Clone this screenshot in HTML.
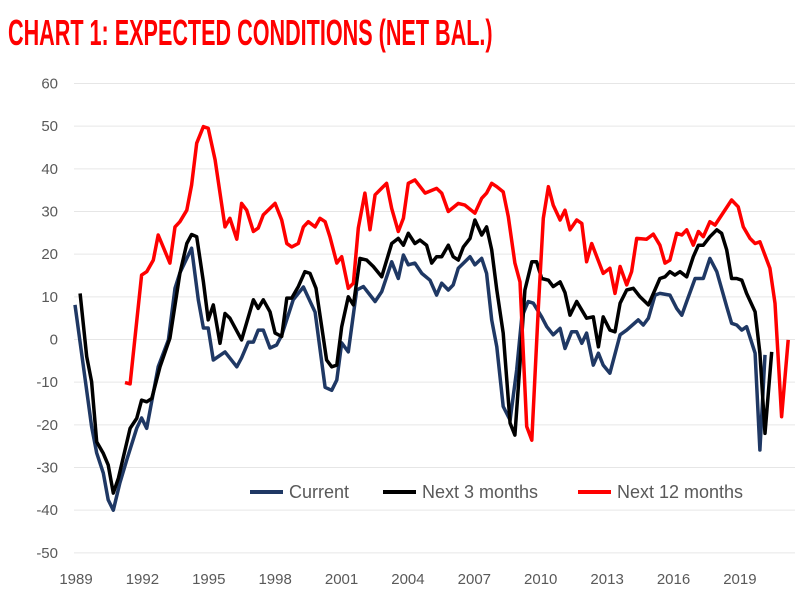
<!DOCTYPE html>
<html><head><meta charset="utf-8"><style>
body{margin:0;background:#fff;}
svg{display:block;font-family:"Liberation Sans",sans-serif;}
</style></head><body>
<svg id="chart" width="808" height="597" viewBox="0 0 808 597" xmlns="http://www.w3.org/2000/svg">
<text x="8" y="45" fill="#ff0000" font-size="36" font-weight="bold" transform="translate(8,0) scale(0.6,1) translate(-8,0)">CHART 1: EXPECTED CONDITIONS (NET BAL.)</text>
<g id="grid"></g>
<g id="yaxis"></g>
<g id="xaxis"></g>
<g id="series"></g>
<g>
<g><line x1="250" y1="492" x2="283" y2="492" stroke="#1f3864" stroke-width="4"/><text x="289" y="498" font-size="18" fill="#595959">Current</text></g>
<g><line x1="383" y1="492" x2="416" y2="492" stroke="#000" stroke-width="4"/><text x="422" y="498" font-size="18" fill="#595959">Next 3 months</text></g>
<g><line x1="578" y1="492" x2="611" y2="492" stroke="#ff0000" stroke-width="4"/><text x="617" y="498" font-size="18" fill="#595959">Next 12 months</text></g>
</g>
</svg>
<script>
const yTicks=[60,50,40,30,20,10,0,-10,-20,-30,-40,-50];
const xTicks=[1989,1992,1995,1998,2001,2004,2007,2010,2013,2016,2019];
const curDates=[1989.00,1989.75,1989.98,1990.28,1990.50,1990.73,1991.03,1991.34,1991.79,1992.01,1992.24,1992.76,1993.22,1993.52,1993.74,1994.27,1994.57,1994.80,1995.02,1995.25,1995.78,1996.31,1996.53,1996.83,1997.06,1997.28,1997.51,1997.81,1998.11,1998.34,1998.86,1999.32,1999.85,2000.30,2000.60,2000.83,2001.05,2001.35,2001.73,2002.03,2002.56,2002.86,2003.31,2003.61,2003.84,2004.06,2004.36,2004.67,2005.04,2005.34,2005.57,2005.87,2006.09,2006.32,2006.85,2007.07,2007.38,2007.60,2007.83,2008.06,2008.35,2008.66,2008.96,2009.19,2009.48,2009.71,2010.09,2010.32,2010.61,2010.92,2011.14,2011.44,2011.67,2011.90,2012.12,2012.42,2012.65,2012.87,2013.17,2013.63,2013.93,2014.45,2014.68,2014.91,2015.21,2015.43,2015.88,2016.19,2016.42,2016.64,2017.02,2017.39,2017.69,2018.00,2018.45,2018.67,2018.90,2019.13,2019.35,2019.73,2019.95,2020.18];
const curVals=[8.1,-20.4,-26.6,-31.3,-37.6,-40,-33.6,-28.2,-20.8,-18.4,-20.8,-6.4,-0.1,12,15.6,21.4,9.3,2.7,2.7,-4.8,-2.9,-6.4,-4.3,-0.6,-0.6,2.2,2.2,-2,-1.3,1,9.3,12.3,6.4,-11.2,-11.9,-9.5,-0.8,-2.9,11.6,12.4,8.9,11.2,18.2,14.3,19.8,17.5,17.9,15.5,13.9,10.4,13.2,11.6,12.8,16.7,19.4,17.5,19,15.5,4.6,-1.7,-15.7,-18.9,-7.1,5.3,8.9,8.5,5.3,3,1.1,2.6,-2.1,1.8,1.8,-0.9,1.5,-6,-3.2,-6,-7.9,1.1,2.2,4.6,3.4,5,10.4,10.8,10.4,7.3,5.7,8.9,14.3,14.3,19,15.9,7.7,3.8,3.4,2.2,3,-3.2,-25.9,-3.6];
const n3Dates=[1989.23,1989.53,1989.75,1989.98,1990.28,1990.50,1990.73,1990.96,1991.49,1991.79,1992.01,1992.24,1992.47,1992.84,1993.29,1993.74,1994.05,1994.27,1994.50,1994.80,1995.02,1995.25,1995.55,1995.78,1996.00,1996.53,1997.06,1997.28,1997.51,1997.81,1998.04,1998.34,1998.57,1998.79,1999.09,1999.39,1999.62,1999.89,2000.15,2000.37,2000.60,2000.83,2001.05,2001.35,2001.58,2001.88,2002.18,2002.48,2002.86,2003.31,2003.61,2003.84,2004.06,2004.36,2004.59,2004.89,2005.12,2005.34,2005.57,2005.87,2006.09,2006.32,2006.55,2006.85,2007.07,2007.38,2007.60,2007.83,2008.06,2008.35,2008.66,2008.88,2009.11,2009.33,2009.64,2009.86,2010.09,2010.39,2010.61,2010.92,2011.14,2011.37,2011.67,2012.12,2012.42,2012.65,2012.87,2013.17,2013.40,2013.63,2013.93,2014.23,2014.53,2014.91,2015.43,2015.66,2015.88,2016.11,2016.34,2016.64,2016.94,2017.17,2017.39,2017.69,2018.00,2018.22,2018.45,2018.67,2018.90,2019.13,2019.35,2019.73,2019.95,2020.18,2020.48];
const n3Vals=[10.8,-4,-9.9,-24,-26.7,-29.4,-36,-32.5,-20.8,-18.5,-14.2,-14.6,-13.8,-6.4,0.3,15.5,22.5,24.6,24.1,13.5,4.6,8.1,-0.9,6.1,5,-0.1,9.3,7.3,9.3,6.5,1.5,0.7,9.7,9.7,12.4,15.9,15.5,12,3,-4.8,-6.4,-6,3,10,8.1,19,18.6,17.1,14.7,22.5,23.7,22.1,24.9,22.5,23.3,22.1,17.9,19.4,19.4,22.1,19.4,18.6,21.7,23.7,28,24.5,26.4,21,11.6,1.5,-19.6,-22.4,-5.6,11.6,18.2,18.2,14.3,13.9,12.4,13.5,11,5.7,8.9,5,5.3,-1.7,5.3,2.2,1.8,8.5,11.6,12,10,8.1,14.3,14.7,15.9,15.1,15.9,14.7,19.4,22.1,22.1,24.1,25.7,24.9,21,14.3,14.3,13.9,10.8,6.5,-3.2,-22,-2.9];
const n12Dates=[1991.26,1991.49,1992.01,1992.24,1992.54,1992.76,1993.07,1993.29,1993.52,1993.74,1994.05,1994.27,1994.50,1994.80,1995.02,1995.33,1995.78,1996.00,1996.31,1996.53,1996.76,1997.06,1997.28,1997.51,1998.04,1998.34,1998.57,1998.79,1999.09,1999.32,1999.54,1999.85,2000.07,2000.30,2000.52,2000.83,2001.05,2001.35,2001.58,2001.80,2002.10,2002.33,2002.56,2003.08,2003.31,2003.61,2003.84,2004.06,2004.36,2004.82,2005.34,2005.57,2005.87,2006.32,2006.62,2007.07,2007.38,2007.60,2007.83,2008.06,2008.35,2008.58,2008.88,2009.11,2009.41,2009.64,2009.94,2010.16,2010.39,2010.61,2010.92,2011.14,2011.37,2011.67,2011.90,2012.12,2012.35,2012.87,2013.17,2013.40,2013.63,2013.93,2014.15,2014.38,2014.83,2015.13,2015.43,2015.66,2015.88,2016.19,2016.42,2016.64,2016.94,2017.17,2017.39,2017.69,2017.92,2018.67,2018.97,2019.20,2019.50,2019.73,2019.95,2020.40,2020.63,2020.93,2021.23];
const n12Vals=[-10.1,-10.4,15.1,15.9,18.6,24.5,20.6,17.9,26.4,27.6,30.3,36.2,46,49.9,49.5,42.1,26.4,28.4,23.5,31.9,30.3,25.3,26.1,29.2,31.9,28,22.5,21.7,22.5,26.4,27.6,26.4,28.4,27.6,24.1,17.9,19.4,12,13.2,26.1,34.3,25.7,33.9,36.6,30.7,25.3,28.4,36.6,37.4,34.3,35.4,34.3,30,31.9,31.5,29.6,33.1,34.3,36.6,35.8,34.6,28.8,17.9,13.5,-20.4,-23.6,7.7,28.4,35.8,31.5,28,30.3,25.7,28,27.2,18.2,22.5,15.5,16.7,10.8,17.1,12.8,15.9,23.7,23.5,24.7,22.1,17.9,18.6,24.9,24.5,25.7,22.1,25.3,24.1,27.6,26.8,32.7,31.1,26.4,23.7,22.5,22.9,16.7,8.5,-18.1,-0.1];

const NS='http://www.w3.org/2000/svg';
const xS=y=>75+(y-1989)*22.13;
const yS=v=>339.5-v*4.267;
function mk(tag,attrs,parent){const e=document.createElementNS(NS,tag);for(const k in attrs)e.setAttribute(k,attrs[k]);parent.appendChild(e);return e;}
const grid=document.getElementById('grid'),ya=document.getElementById('yaxis'),xa=document.getElementById('xaxis'),ser=document.getElementById('series');
yTicks.forEach(v=>{
  const l=mk('line',{x1:74,x2:795,y1:yS(v),y2:yS(v),stroke:'#e6e6e6','stroke-width':1},grid);
  
  
  const t=mk('text',{x:58,y:yS(v)+5,'text-anchor':'end','font-size':15,fill:'#595959'},ya);
  t.textContent=v;
  
  
});
xTicks.forEach(y=>{
  const t=mk('text',{x:xS(y)+1,y:584,'text-anchor':'middle','font-size':15,fill:'#595959'},xa);
  t.textContent=y;
  
  
});
function line(dates,vals,color,name){
  const d=dates.map((t,i)=>(i?'L':'M')+xS(t).toFixed(1)+','+yS(vals[i]).toFixed(1)).join('');
  const p=mk('path',{d:d,fill:'none',stroke:color,'stroke-width':3.5,'stroke-linejoin':'round'},ser);
  
  
}
line(curDates,curVals,'#1f3864','current-line');
line(n3Dates,n3Vals,'#000000','next-3-months-line');
line(n12Dates,n12Vals,'#ff0000','next-12-months-line');
</script>
</body></html>
